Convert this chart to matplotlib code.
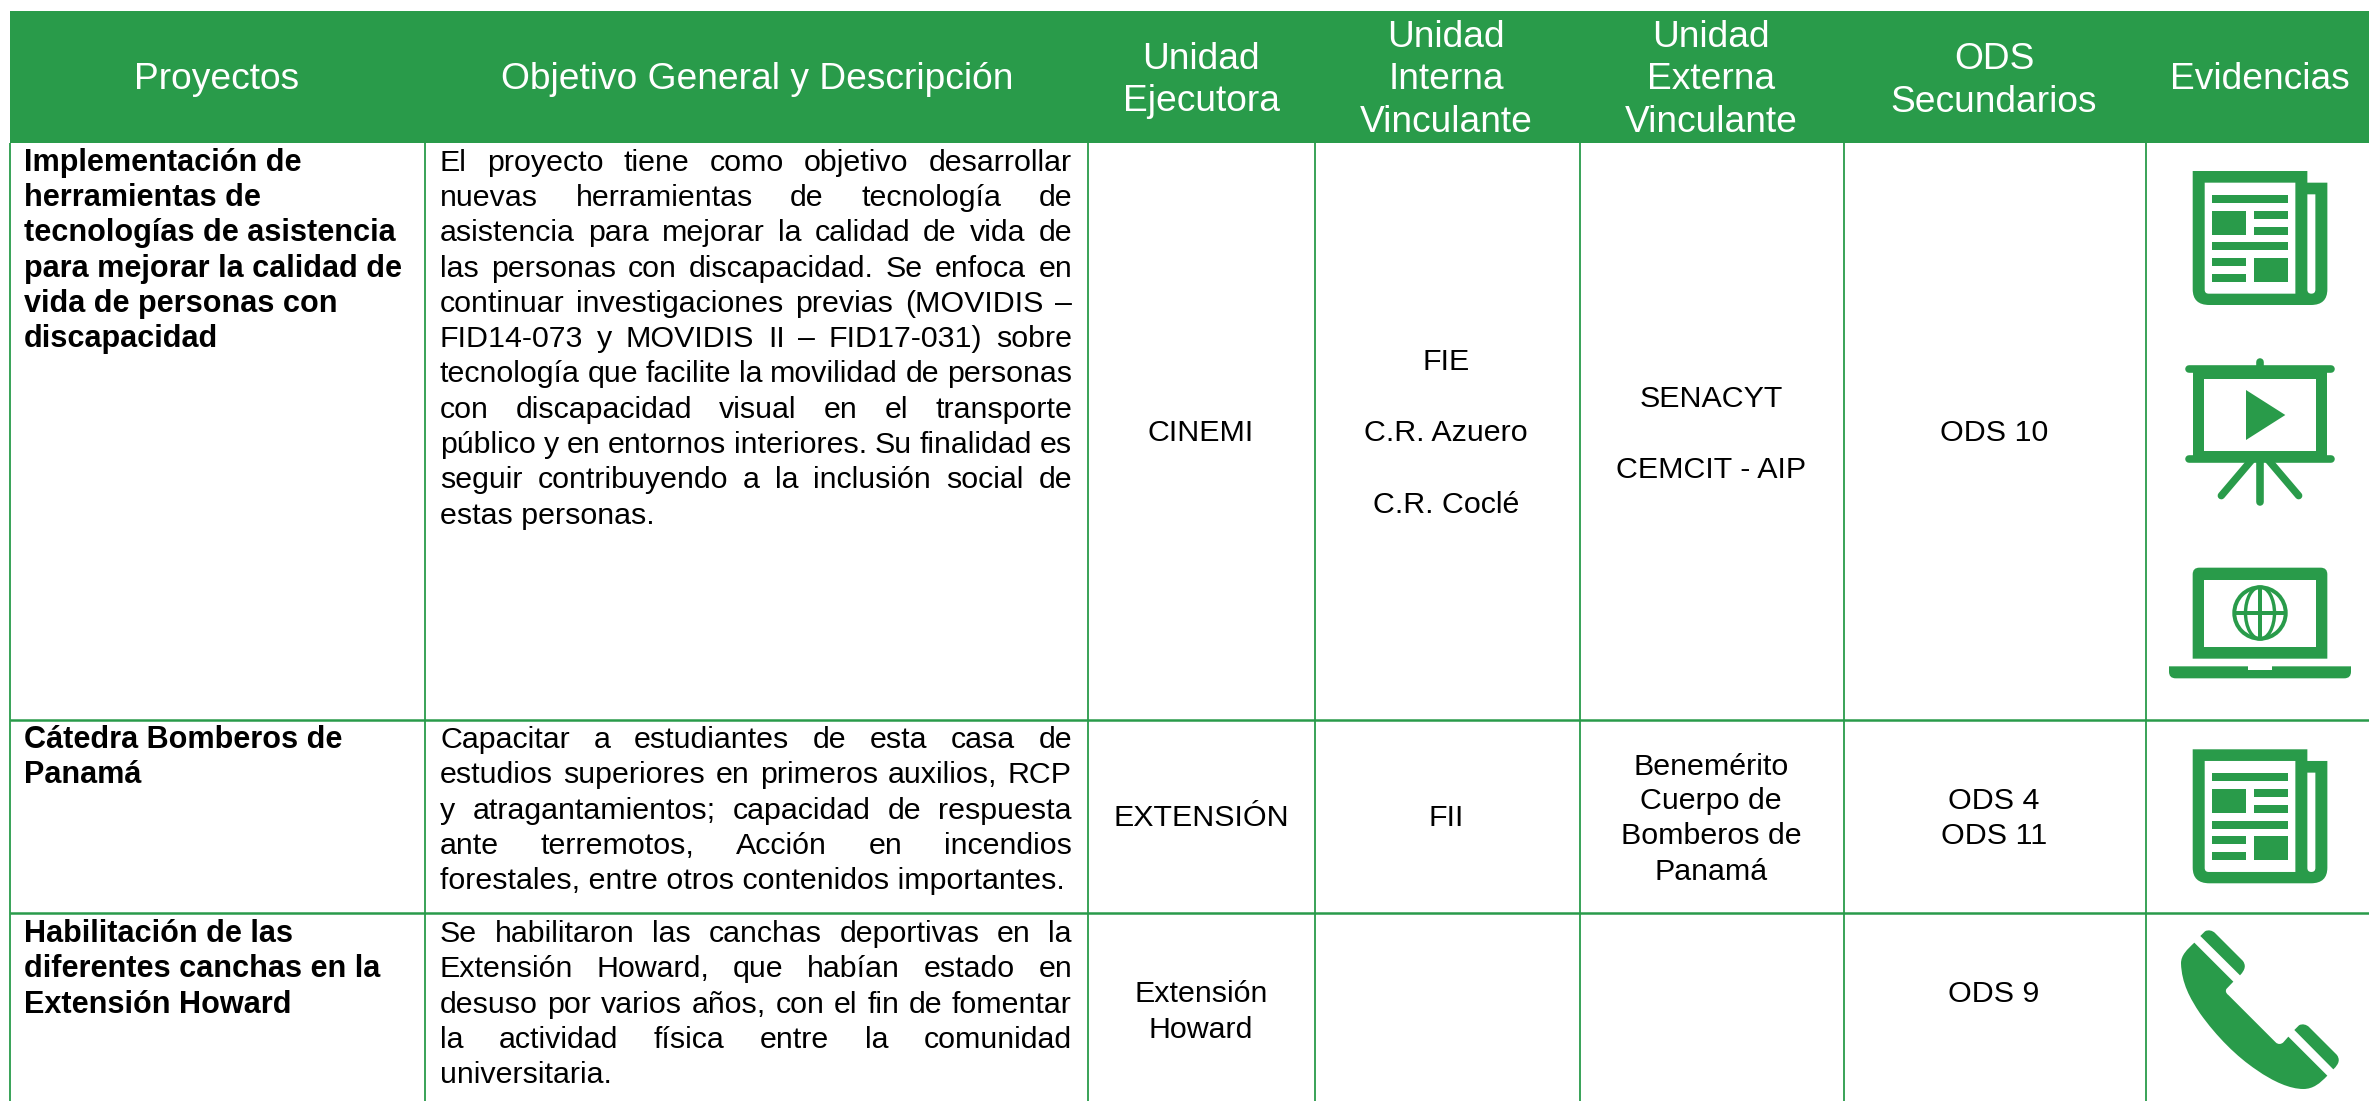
import matplotlib
matplotlib.use("Agg")
import matplotlib.pyplot as plt
from matplotlib.patches import Circle, Ellipse, PathPatch, Polygon, Rectangle
from matplotlib.path import Path

GREEN = "#299B4A"
INK = "#000000"
FONT = "Liberation Sans"
BODY_PT = 21.9
BOLD_PT = 22.1
HEAD_PT = 26.7

HEADERS = [
    ["Proyectos"],
    ["Objetivo General y Descripción"],
    ["Unidad", "Ejecutora"],
    ["Unidad", "Interna", "Vinculante"],
    ["Unidad", "Externa", "Vinculante"],
    ["ODS", "Secundarios"],
    ["Evidencias"],
]

PROJECTS = [
    ["Implementación de", "herramientas de", "tecnologías de asistencia",
     "para mejorar la calidad de", "vida de personas con", "discapacidad"],
    ["Cátedra Bomberos de", "Panamá"],
    ["Habilitación de las", "diferentes canchas en la", "Extensión Howard"],
]

DESCRIPTIONS = [
    ["El proyecto tiene como objetivo desarrollar",
     "nuevas herramientas de tecnología de",
     "asistencia para mejorar la calidad de vida de",
     "las personas con discapacidad. Se enfoca en",
     "continuar investigaciones previas (MOVIDIS –",
     "FID14-073 y MOVIDIS II – FID17-031) sobre",
     "tecnología que facilite la movilidad de personas",
     "con discapacidad visual en el transporte",
     "público y en entornos interiores. Su finalidad es",
     "seguir contribuyendo a la inclusión social de",
     "estas personas."],
    ["Capacitar a estudiantes de esta casa de",
     "estudios superiores en primeros auxilios, RCP",
     "y atragantamientos; capacidad de respuesta",
     "ante terremotos, Acción en incendios",
     "forestales, entre otros contenidos importantes."],
    ["Se habilitaron las canchas deportivas en la",
     "Extensión Howard, que habían estado en",
     "desuso por varios años, con el fin de fomentar",
     "la actividad física entre la comunidad",
     "universitaria."],
]

EXECUTING = [["CINEMI"], ["EXTENSIÓN"], ["Extensión", "Howard"]]
INTERNAL = [["FIE", "C.R. Azuero", "C.R. Coclé"], ["FII"], []]
EXTERNAL = [["SENACYT", "CEMCIT - AIP"],
            ["Benemérito", "Cuerpo de", "Bomberos de", "Panamá"], []]
SECONDARY = [["ODS 10"], ["ODS 4", "ODS 11"], ["ODS 9"]]

# layout, in reference pixels
COL_LINES = [10, 424.5, 1088, 1315, 1580, 1844, 2146]
ROW_LINES = [143, 720, 913]
HEAD_X = [217, 757, 1201, 1446, 1711, 1994, 2260]
HEAD_Y = [[89], [89], [69, 111], [47, 89, 132], [47, 89, 132], [69, 112], [89]]
ROW_Y = [170.7, 748, 942]
LINE_STEP = 35.3
TEXT_LEFT, TEXT_RIGHT = 440, 1072

fig = plt.figure(figsize=(23.69, 11.01), dpi=100)
ax = fig.add_axes([0, 0, 1, 1])
ax.set_xlim(0, 2369)
ax.set_ylim(1101, 0)
ax.axis("off")


def put(x, y, s, size=BODY_PT, color=INK, ha="center", weight="normal"):
    return ax.text(x, y, s, fontsize=size, color=color, ha=ha, va="baseline",
                   family=FONT, fontweight=weight)


def justified(lines, y0):
    renderer = fig.canvas.get_renderer()
    for i, line in enumerate(lines):
        y = y0 + i * LINE_STEP
        words = line.split(" ")
        if i == len(lines) - 1:
            put(TEXT_LEFT, y, line, ha="left")
            continue
        items = [put(TEXT_LEFT, y, w, ha="left") for w in words]
        widths = [t.get_window_extent(renderer).width for t in items]
        gap = (TEXT_RIGHT - TEXT_LEFT - sum(widths)) / (len(words) - 1)
        x = TEXT_LEFT
        for t, w in zip(items, widths):
            t.set_x(x)
            x += w + gap


def fill(verts, codes=None):
    ax.add_patch(PathPatch(Path(verts, codes), facecolor=GREEN, edgecolor="none", lw=0))


def bar(x0, y0, x1, y1, color=GREEN):
    ax.add_patch(Rectangle((x0, y0), x1 - x0, y1 - y0, facecolor=color, edgecolor="none"))


def stroke(x0, y0, x1, y1, width):
    ax.plot([x0, x1], [y0, y1], color=GREEN, lw=width * 0.72, solid_capstyle="round")


def newspaper(ox, oy):
    u = lambda x, y: (ox + x / 3, oy + y / 3)
    M, L, C, Z = Path.MOVETO, Path.LINETO, Path.CURVE3, Path.CLOSEPOLY
    fill([u(0, 0), u(344, 0), u(344, 35), u(404, 35), u(404, 355), u(404, 402), u(355, 402),
          u(50, 402), u(0, 402), u(0, 355), u(0, 0)],
         [M, L, L, L, L, C, C, L, C, C, Z])
    ax.add_patch(PathPatch(Path([u(36, 35), u(308, 35), u(308, 368), u(48, 368), u(36, 368),
                                 u(36, 356), u(36, 35)], [M, L, L, L, C, C, Z]),
                           facecolor="white", edgecolor="none"))
    ax.add_patch(PathPatch(Path([u(344, 70), u(368, 70), u(368, 356), u(368, 368), u(356, 368),
                                 u(344, 368), u(344, 356), u(344, 70)],
                                [M, L, L, C, C, C, C, Z]),
                           facecolor="white", edgecolor="none"))
    for a, b, c, d in [(58, 71, 286, 95), (58, 119, 160, 191), (184, 119, 286, 143),
                       (184, 167, 286, 191), (58, 214, 286, 238), (58, 260, 160, 284),
                       (58, 308, 160, 332), (184, 260, 286, 332)]:
        bar(*u(a, b), *u(c, d))


def screen_icon(ox, oy):
    u = lambda x, y: (ox + x / 3, oy + y / 3)
    bar(*u(68, 88), *u(472, 356))
    bar(*u(103, 118), *u(437, 332), color="white")
    stroke(*u(57, 88), *u(483, 88), 7.6)
    stroke(*u(57, 356), *u(483, 356), 7.6)
    stroke(*u(270, 65), *u(270, 88), 7.6)
    stroke(*u(270, 356), *u(270, 486), 7.6)
    stroke(*u(245, 360), *u(154, 467), 7.4)
    stroke(*u(295, 360), *u(386, 467), 7.4)
    ax.add_patch(Polygon([u(228, 150), u(228, 300), u(346, 225)], facecolor=GREEN, edgecolor="none"))


def laptop(ox, oy):
    u = lambda x, y: (ox + x / 3, oy + y / 3)
    M, L, C, Z = Path.MOVETO, Path.LINETO, Path.CURVE3, Path.CLOSEPOLY
    fill([u(128, 326), u(128, 73), u(128, 53), u(148, 53), u(512, 53), u(532, 53), u(532, 73),
          u(532, 326), u(128, 326)], [M, L, C, C, L, C, C, L, Z])
    bar(*u(163, 89), *u(497, 291), color="white")
    fill([u(57, 349), u(603, 349), u(603, 365), u(603, 385), u(583, 385), u(77, 385), u(57, 385),
          u(57, 365), u(57, 349)], [M, L, L, C, C, L, C, C, Z])
    bar(*u(295, 349), *u(365, 361), color="white")
    c = u(330, 189)
    ax.add_patch(Circle(c, 25.7, facecolor="none", edgecolor=GREEN, lw=4 * 0.72))
    ax.add_patch(Ellipse(c, 29, 52, facecolor="none", edgecolor=GREEN, lw=3.4 * 0.72))
    bar(c[0] - 1.7, c[1] - 26, c[0] + 1.7, c[1] + 26)
    bar(c[0] - 26, c[1] - 1.7, c[0] + 26, c[1] + 1.7)


def phone(ox, oy):
    u = lambda x, y: (ox + x / 3, oy + y / 3)
    M, L, C, Z = Path.MOVETO, Path.LINETO, Path.CURVE4, Path.CLOSEPOLY
    fill([u(283, 728), u(400, 845), u(380, 866), u(375, 872), u(378, 880), u(385, 885),
          u(527, 1027), u(535, 1035), u(545, 1032), u(550, 1027), u(565, 1010), u(682, 1127),
          u(660, 1150), u(640, 1167), u(610, 1167),
          u(570, 1167), u(520, 1145), u(470, 1110),
          u(410, 1070), u(350, 1010), u(300, 940),
          u(270, 895), u(245, 850), u(243, 790),
          u(243, 765), u(262, 748), u(283, 728)],
         [M, L, L, C, C, C, L, C, C, C, L, L, C, C, C, C, C, C, C, C, C, C, C, C, C, C, C])
    fill([u(301, 708), u(315, 694), u(325, 688), u(338, 692), u(345, 699), u(428, 782),
          u(438, 795), u(437, 808), u(420, 826), u(301, 708)],
         [M, L, C, C, C, L, C, C, C, Z])
    fill([u(583, 990), u(597, 976), u(607, 970), u(620, 974), u(627, 981), u(710, 1064),
          u(720, 1077), u(719, 1090), u(700, 1108), u(583, 990)],
         [M, L, C, C, C, L, C, C, C, Z])


# header band and grid
bar(COL_LINES[0], 11, 2369, ROW_LINES[0])
for x in COL_LINES:
    ax.plot([x, x], [ROW_LINES[0], 1101], color=GREEN, lw=1.3, solid_capstyle="butt")
for y in ROW_LINES[1:]:
    ax.plot([COL_LINES[0], 2369], [y, y], color=GREEN, lw=1.8, solid_capstyle="butt")

for x, ys, lines in zip(HEAD_X, HEAD_Y, HEADERS):
    for y, line in zip(ys, lines):
        put(x, y, line, size=HEAD_PT, color="white")

for y0, lines in zip(ROW_Y, PROJECTS):
    for i, line in enumerate(lines):
        put(24, y0 + i * LINE_STEP, line, size=BOLD_PT, ha="left", weight="bold")

for y0, lines in zip(ROW_Y, DESCRIPTIONS):
    justified(lines, y0)

EXEC_Y = [[441], [826], [1002, 1038]]
INT_Y = [[370, 441, 513], [826], []]
EXT_Y = [[407, 478], [775, 809, 844, 880], []]
SEC_Y = [[441], [809, 844], [1002]]
for cx, col, col_y in [(1201, EXECUTING, EXEC_Y), (1446, INTERNAL, INT_Y),
                       (1711, EXTERNAL, EXT_Y), (1994, SECONDARY, SEC_Y)]:
    for lines, ys in zip(col, col_y):
        for y, line in zip(ys, lines):
            put(cx, y, line)

newspaper(2192.7, 171)
screen_icon(2170, 340)
laptop(2150, 550)
newspaper(2192.7, 749.3)
phone(2100, 700)

fig.savefig("out.png", dpi=100, facecolor="white")
